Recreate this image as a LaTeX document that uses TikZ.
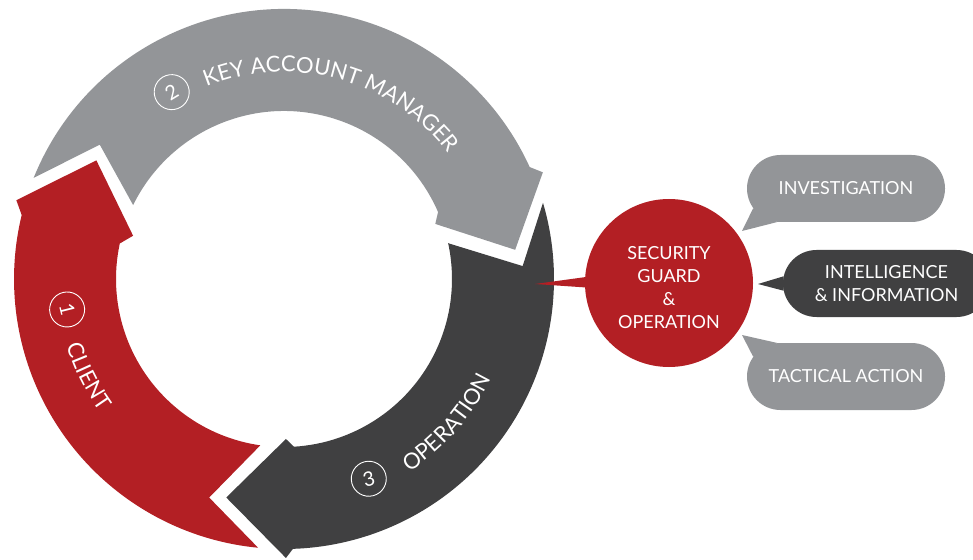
\documentclass[tikz,border=0pt]{standalone}
\usepackage{fontspec}
\setmainfont{Lato}
\usetikzlibrary{shapes.misc,decorations.text}
\definecolor{clientred}{HTML}{B31F24}
\definecolor{kamgrey}{HTML}{939598}
\definecolor{opdark}{HTML}{404041}
\newcommand{\ringfont}{\fontsize{22}{22}\selectfont}
\begin{document}
\begin{tikzpicture}[x=1pt,y=1pt]
		\tikzset{bubble/.style={rounded rectangle, text=white, align=center, minimum width=198pt, minimum height=67pt, inner sep=0pt, font=\fontsize{18}{23}\selectfont},
		         digit/.style={circle, draw=white, line width=0.9pt, text=white, minimum size=35pt, inner sep=0pt, font=\fontsize{20}{20}\selectfont},
		         ringtext/.style={decorate, decoration={text along path, text color=white, text align=left}}};
		\useasboundingbox (-284,-280) rectangle (689,279);
		\clip (-284,-280) rectangle (689,279);
		\fill[clientred] (264.5:270) arc[start angle=264.5, end angle=166.3, radius=270] -- (163.6:279) -- (147.7:222) -- (164:157) -- (167.8:168) arc[start angle=167.8, end angle=261.9, radius=168] -- (251.1:231) -- cycle;
		\fill[kamgrey  ] (158  :270) arc[start angle=158,   end angle=24.5,  radius=270] -- (22.4:280)  -- (7.2:233)    -- (20:161)   -- (23.5:168)  arc[start angle=23.5,  end angle=153.9, radius=168] -- (143.9:228) -- cycle;
		\fill[opdark   ] (16.4 :270) arc[start angle=16.4,  end angle=-88.1, radius=270] -- (-89.6:279) -- (-104.8:226) -- (-89.3:160) -- (-86.6:168) arc[start angle=-86.6, end angle=12.3,  radius=168] -- (3.1:239)   -- cycle;
		\path[ringtext, decoration={text={|\ringfont|KEY ACCOUNT MANAGER}}] (112:207) arc[start angle=112, end angle=15,  radius=207];
		\path[ringtext, decoration={text={|\ringfont|CLIENT}}             ] (197:227) arc[start angle=197, end angle=250, radius=227];
		\path[ringtext, decoration={text={|\ringfont|OPERATION}}          ] (303:230) arc[start angle=303, end angle=350, radius=230];
		\node[digit, rotate=-76] (One)   at (188:219) {1};
		\node[digit, rotate= 31] (Two)   at (121:218) {2};
		\node[digit, rotate= 15] (Three) at (293:217) {3};
		\node[circle, fill=clientred, minimum size=168pt, inner sep=0pt, text=white, align=center, font=\fontsize{18}{23}\selectfont] (Guard) at (385,-4) {\rule{0pt}{23pt}SECURITY\\GUARD\\\&\\OPERATION};
		\node[bubble, fill=kamgrey                    ] (Investigation) at (562,  90.5) {INVESTIGATION};
		\node[bubble, fill=opdark, minimum width=207pt] (Intelligence)  at (602.5, -4.5) {INTELLIGENCE\\\& INFORMATION};
		\node[bubble, fill=kamgrey                    ] (Tactical)      at (562, -97.5) {TACTICAL ACTION};
		\coordinate (GuardTip) at (251,-5);
		\coordinate (InvTip)   at (458,48);
		\coordinate (IntTip)   at (474,-5);
		\coordinate (TacTip)   at (458,-56);
		\fill[clientred] (Guard.176.5)        -- (GuardTip) -- (Guard.183.5)        -- cycle;
		\fill[kamgrey  ] (Investigation.-168) -- (InvTip)   -- (Investigation.-154) -- cycle;
		\fill[opdark   ] (Intelligence.176)   -- (IntTip)   -- (Intelligence.184)   -- cycle;
		\fill[kamgrey  ] (Tactical.168)       -- (TacTip)   -- (Tactical.154)       -- cycle;
	\end{tikzpicture}
\end{document}
